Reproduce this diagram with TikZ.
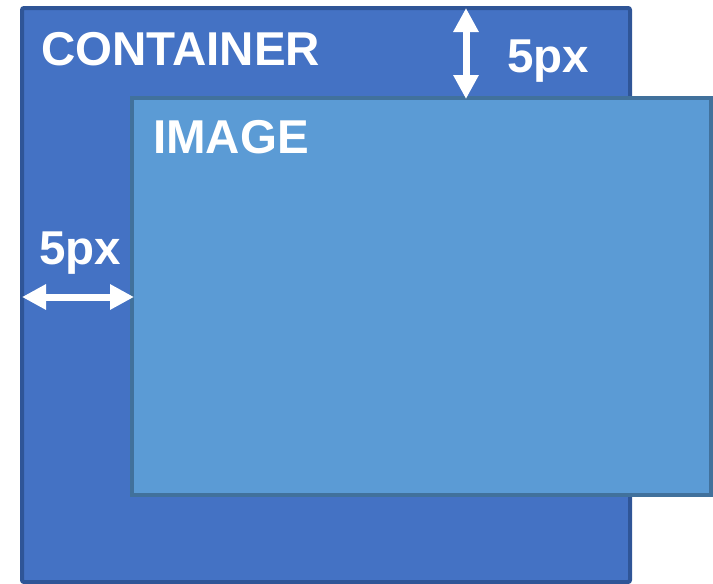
\documentclass[tikz,border=0pt]{standalone}
\usepackage{fontspec}
\setmainfont{Liberation Sans}
\usetikzlibrary{arrows.meta,positioning}
\definecolor{boxblue}{HTML}{4472C4}
\definecolor{boxedge}{HTML}{2F5597}
\definecolor{imgblue}{HTML}{5B9BD5}
\definecolor{imgedge}{HTML}{41719C}

\begin{document}
\begin{tikzpicture}[x=1pt,y=-1pt,
              lbl/.style={text=white,font=\fontsize{47.5}{52}\selectfont\bfseries,
              inner sep=0pt,anchor=base west},
              gap/.style={white,line width=7pt,
              {Triangle[width=24pt,length=24pt]}-{Triangle[width=24pt,length=24pt]},
              shorten <=-1pt,shorten >=-1pt}]
  \useasboundingbox (0,0) rectangle (713,584);
  \clip (0,0) rectangle (713,584);
  % the two boxes
  \draw[boxedge,fill=boxblue,line width=4pt,rounded corners=2pt]
    (22,8) rectangle (630,582);
  \node[lbl] (cont) at (41,65) {CONTAINER};
  \draw[imgedge,fill=imgblue,line width=4pt]
    (132,98) rectangle (711,495);
  \node[lbl] (img) at (153,153) {IMAGE};
  % spacing marks
  \coordinate (ctop) at (466,9);
  \coordinate (itop) at (466,98);
  \coordinate (cleft) at (23,297);
  \coordinate (ileft) at (133,297);
  \draw[gap] (ctop) -- (itop);
  \draw[gap] (cleft) -- (ileft);
  \node[lbl] (gtop) at (507,72) {5px};
  \node[lbl] (gleft) at (39,264) {5px};
\end{tikzpicture}
\end{document}
